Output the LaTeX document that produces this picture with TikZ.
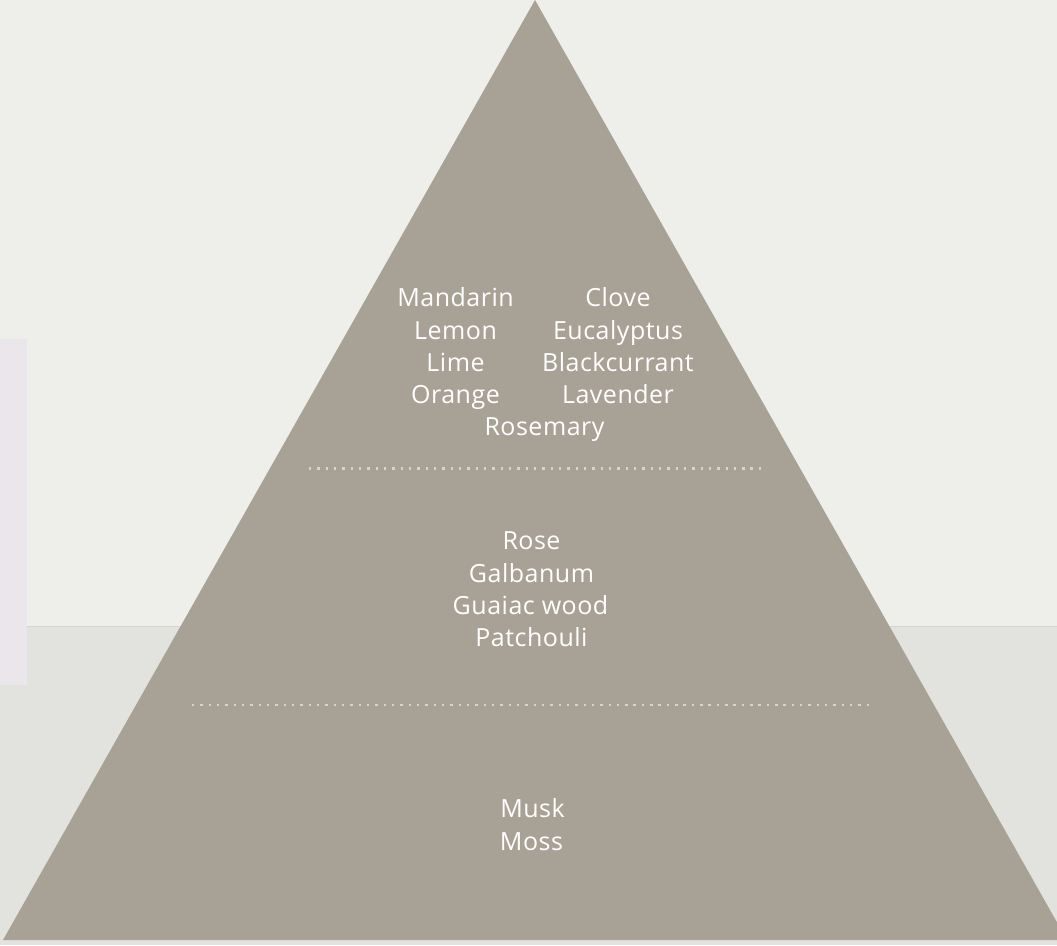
\documentclass[tikz,border=0pt]{standalone}
\usepackage{fontspec}
\setmainfont{Open Sans}[LetterSpace=2]
\definecolor{bgtop}{HTML}{EEEEEA}
\definecolor{bgbot}{HTML}{E2E2DE}
\definecolor{bgline}{HTML}{D6D6D1}
\definecolor{panel}{HTML}{EAE6EC}
\definecolor{pyr}{HTML}{A8A195}
\definecolor{dotc}{HTML}{D8D3CB}
\tikzset{
  note/.style={anchor=base, text=white, inner sep=0pt, font=\fontsize{25}{28}\selectfont},
  sep/.style={draw=dotc, line width=2.4pt, dash pattern=on 2.4pt off 5.93pt},
}
\begin{document}
\begin{tikzpicture}[x=1pt,y=-1pt]
\useasboundingbox (0,0) rectangle (1057,945);
% background
\fill[bgtop] (0,0) rectangle (1057,626);
\fill[bgbot] (0,626) rectangle (1057,945);
\draw[bgline, line width=1pt] (0,626) -- (1057,626);
\fill[panel] (0,339) rectangle (27,685);
% pyramid
\coordinate (apex) at (535,0);
\coordinate (bl) at (3,940);
\coordinate (br) at (1067,940);
\begin{scope}
\clip (0,0) rectangle (1057,945);
\fill[pyr] (apex) -- (bl) -- (br) -- cycle;
\end{scope}
% separators
\coordinate (s1a) at (309,468.5);
\coordinate (s1b) at (761,468.5);
\coordinate (s2a) at (192,705);
\coordinate (s2b) at (872,705);
\draw[sep] (s1a) -- (s1b);
\draw[sep] (s2a) -- (s2b);
% top notes
\node[note] (mandarin) at (455.5,306.5) {Mandarin};
\node[note] (lemon) at (455.5,339) {Lemon};
\node[note] (lime) at (455.5,371) {Lime};
\node[note] (orange) at (455.5,403) {Orange};
\node[note] (clove) at (618,306.5) {Clove};
\node[note] (eucalyptus) at (618,339) {Eucalyptus};
\node[note] (blackcurrant) at (618,371) {Blackcurrant};
\node[note] (lavender) at (618,403) {Lavender};
\node[note] (rosemary) at (544.5,435.5) {Rosemary};
% heart notes
\node[note] (rose) at (531.5,549.5) {Rose};
\node[note] (galbanum) at (531.5,582) {Galbanum};
\node[note] (guaiac) at (530.5,614) {Guaiac wood};
\node[note] (patchouli) at (531.5,646) {Patchouli};
% base notes
\node[note] (musk) at (532.5,817.5) {Musk};
\node[note] (moss) at (531.5,850.5) {Moss};
\end{tikzpicture}
\end{document}
